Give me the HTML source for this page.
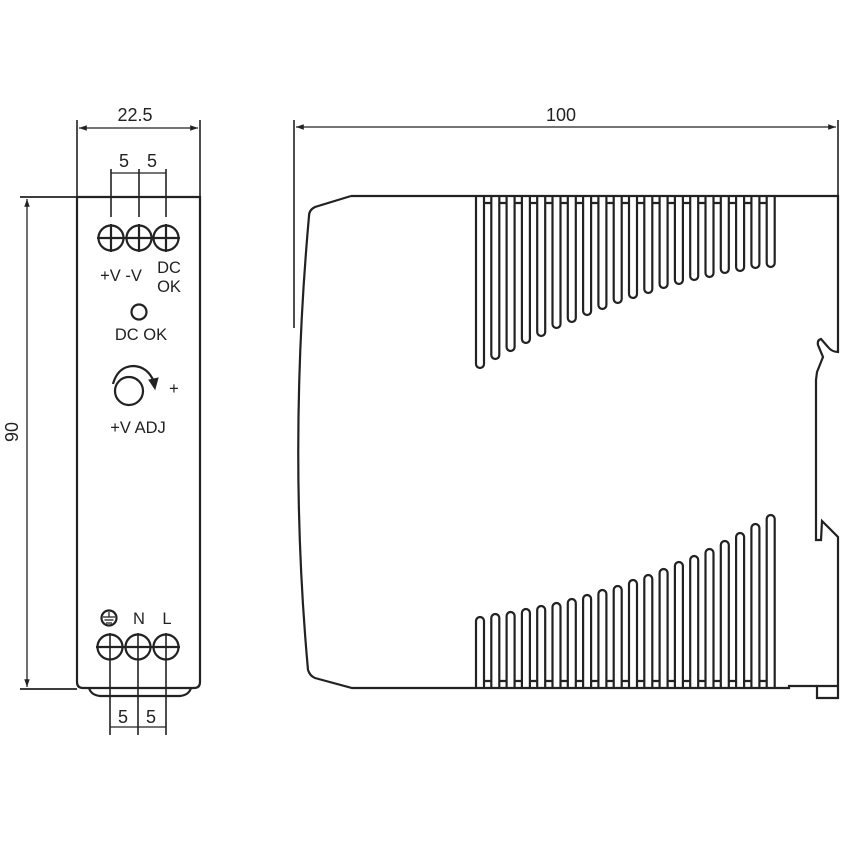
<!DOCTYPE html>
<html><head><meta charset="utf-8"><style>
html,body{margin:0;padding:0;background:#fff;}
svg{display:block;}
text{font-family:"Liberation Sans",sans-serif;fill:#222;}
</style></head><body>
<svg width="841" height="841" viewBox="0 0 841 841" xmlns="http://www.w3.org/2000/svg">
<defs>
<marker id="a" viewBox="0 0 10 10" refX="10" refY="5" markerWidth="8" markerHeight="6" orient="auto-start-reverse"><path d="M0,1.5 L10,5 L0,8.5 z" fill="#222"/></marker>
</defs>
<g fill="none" stroke="#222" stroke-width="2.2">
<path d="M77,197 L200,197 L200,682 Q200,688 194,688 L83,688 Q77,688 77,682 Z"/>
<path d="M89,688 Q91,695 100,696 L180,696 Q189,695 191,688"/>
<line x1="77" y1="120" x2="77" y2="197" stroke-width="1.6"/>
<line x1="200" y1="120" x2="200" y2="197" stroke-width="1.6"/>
<line x1="79" y1="128" x2="198" y2="128" stroke-width="1.3" marker-start="url(#a)" marker-end="url(#a)"/>
<line x1="20" y1="197" x2="77" y2="197" stroke-width="1.8"/>
<line x1="20" y1="689" x2="77" y2="689" stroke-width="1.8"/>
<line x1="27" y1="199" x2="27" y2="687" stroke-width="1.3" marker-start="url(#a)" marker-end="url(#a)"/>
<line x1="111" y1="169" x2="111" y2="217" stroke-width="1.6"/>
<line x1="139" y1="169" x2="139" y2="217" stroke-width="1.6"/>
<line x1="166" y1="169" x2="166" y2="217" stroke-width="1.6"/>
<line x1="111" y1="173" x2="166" y2="173" stroke-width="1.3"/>
<circle cx="111" cy="238" r="12.5"/><circle cx="139" cy="238" r="12.5"/><circle cx="166" cy="238" r="12.5"/>
<line x1="97" y1="238" x2="180" y2="238"/>
<line x1="111" y1="224" x2="111" y2="252"/><line x1="139" y1="224" x2="139" y2="252"/><line x1="166" y1="224" x2="166" y2="252"/>
<circle cx="139" cy="312" r="7.5"/>
<circle cx="129" cy="391" r="14"/>
<path d="M113,384 Q118,366 134,366 Q148,367 154,382"/>
<path d="M149,380 L158,378 L155,389 z" fill="#222" stroke-width="1"/>
<circle cx="109" cy="618" r="7.5"/>
<line x1="103" y1="617" x2="115" y2="617" stroke-width="1.3"/>
<line x1="104.5" y1="620" x2="113.5" y2="620" stroke-width="1.3"/>
<line x1="106" y1="623" x2="112" y2="623" stroke-width="1.3"/>
<line x1="109" y1="612" x2="109" y2="617" stroke-width="1.3"/>
<circle cx="110" cy="647" r="12.5"/><circle cx="138" cy="647" r="12.5"/><circle cx="166" cy="647" r="12.5"/>
<line x1="96" y1="647" x2="180" y2="647"/>
<line x1="110" y1="633" x2="110" y2="735" stroke-width="1.6"/>
<line x1="138" y1="633" x2="138" y2="735" stroke-width="1.6"/>
<line x1="166" y1="633" x2="166" y2="735" stroke-width="1.6"/>
<line x1="110" y1="727" x2="166" y2="727" stroke-width="1.3"/>
<line x1="294" y1="120" x2="294" y2="328" stroke-width="1.6"/>
<line x1="838" y1="120" x2="838" y2="197" stroke-width="1.6"/>
<line x1="296" y1="127" x2="836" y2="127" stroke-width="1.3" marker-start="url(#a)" marker-end="url(#a)"/>
<path d="M351,196 L838,196 L838,352 Q832,352 828,347 L821,339 Q817,340 818,345 L823,357 L817,372 L816,380 L816,540 L821,540 L822,521 L838,537 L838,686 L817,686 L817,698 L838,698 L838,686"/>
<path d="M351,196 L315,207 Q309,210 309,216 Q288,450 308,670 Q310,676 315,678 L352,688 L789,688 L789,686 L817,686"/>
</g>
<g fill="none" stroke="#222" stroke-width="2.2" id="fins"></g>
<g font-size="18" text-anchor="middle">
<text x="135" y="121">22.5</text>
<text x="124" y="167">5</text><text x="152" y="167">5</text>
<text x="123" y="723">5</text><text x="151" y="723">5</text>
<text x="561" y="121">100</text>
<text transform="translate(18,432) rotate(-90)">90</text>
</g>
<g font-size="16.5" text-anchor="middle">
<text x="121" y="281">+V -V</text>
<text x="169" y="273">DC</text><text x="169" y="292">OK</text>
<text x="141" y="340">DC OK</text>
<text x="174" y="394">+</text>
<text x="138" y="433">+V ADJ</text>
<text x="139" y="624">N</text><text x="167" y="624">L</text>
</g>
<script>
(function(){
var g=document.getElementById('fins');var d='';
var top=[368,359,351,343,336,328,322,315,309,303,298,293,288,284,280,277,273,271,268,267];
var bot=[617,614,612,609,606,603,599,595,590,586,580,575,569,562,556,549,541,533,524,515];
for(var i=0;i<20;i++){var c=480+i*15.3,l=c-4,r=c+4;
d+='M'+l+',196 L'+l+','+(top[i]-4)+' A4,4 0 0 0 '+r+','+(top[i]-4)+' L'+r+',196 ';
d+='M'+l+',688 L'+l+','+(bot[i]+4)+' A4,4 0 0 1 '+r+','+(bot[i]+4)+' L'+r+',688 ';
if(i<19){var n=480+(i+1)*15.3-4;d+='M'+r+',203 L'+n+',203 M'+r+',681 L'+n+',681 ';}
}
var p=document.createElementNS('http://www.w3.org/2000/svg','path');p.setAttribute('d',d);g.appendChild(p);
})();
</script>
</svg>
</body></html>
